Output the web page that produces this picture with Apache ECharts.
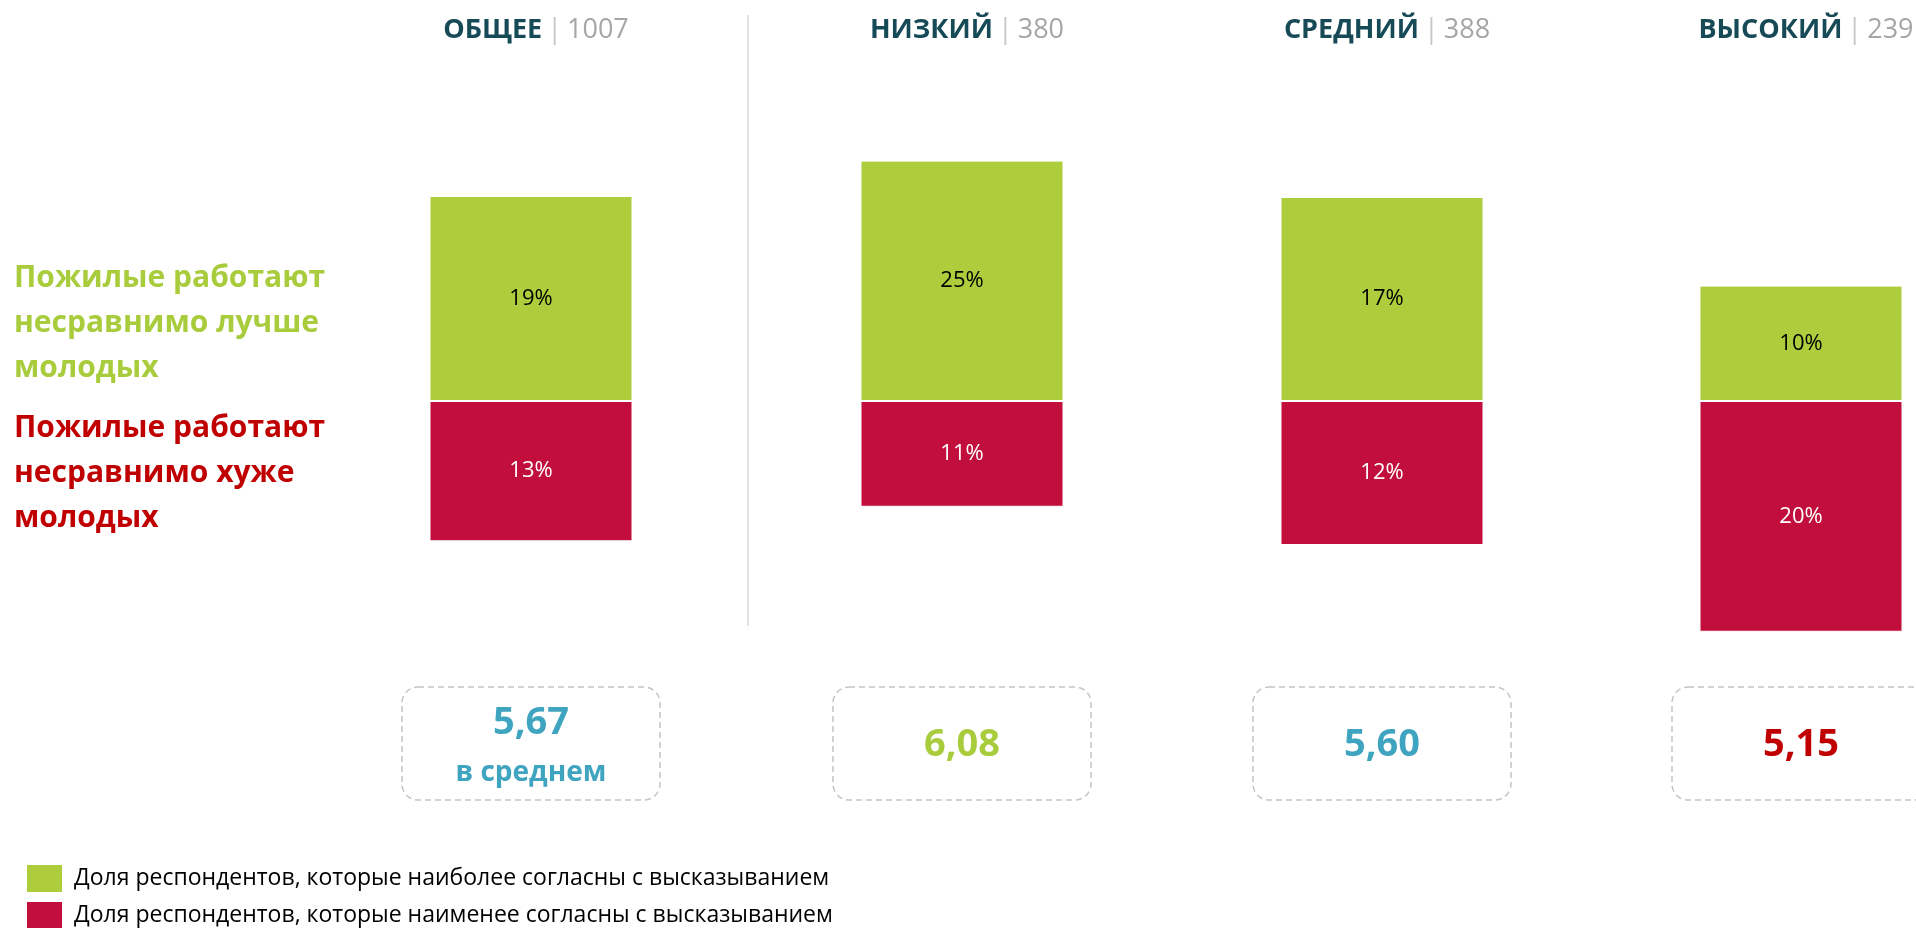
<!DOCTYPE html>
<html>
<head>
<meta charset="utf-8">
<script src="https://cdn.jsdelivr.net/npm/echarts@6/dist/echarts.min.js"></script>
<style>
  html, body { margin: 0; padding: 0; background: #fff; }
  #chart { width: 1916px; height: 928px; }
</style>
</head>
<body>
<div id="chart"></div>
<script>
// данные
const groups = ['ОБЩЕЕ', 'НИЗКИЙ', 'СРЕДНИЙ', 'ВЫСОКИЙ'];
const groupN = [1007, 380, 388, 239];
const agreeMost = [19, 25, 17, 10];   // наиболее согласны, %
const agreeLeast = [13, 11, 12, 20];  // наименее согласны, %
const meanScore = ['5,67', '6,08', '5,60', '5,15'];
const meanNote = ['в среднем', '', '', ''];
const axisRange = [27.8, 31.2, 25, 26]; // в оригинале у каждой панели свой масштаб

const seriesNames = [
  'Доля респондентов, которые наиболее согласны с высказыванием',
  'Доля респондентов, которые наименее согласны с высказыванием'
];

const GREEN = '#adcd3d';
const RED = '#c10e3c';
const TEXT_GREEN = '#a9cc3c';
const TEXT_RED = '#c00000';
const TEAL = '#3fa4bf';
const meanColor = [TEAL, TEXT_GREEN, TEAL, TEXT_RED];
const FONT = '"Open Sans", "Noto Sans", sans-serif';

const centers = [531, 962, 1382, 1801];
const barW = 203;

const chart = echarts.init(document.getElementById('chart'), null, { renderer: 'canvas' });

const grid = [], xAxis = [], yAxis = [], series = [], title = [], graphic = [];

groups.forEach((g, i) => {
  grid.push({ left: centers[i] - barW / 2, width: barW, top: 101, height: 600 });
  xAxis.push({ type: 'category', gridIndex: i, data: [g], show: false });
  yAxis.push({ type: 'value', gridIndex: i, min: -axisRange[i], max: axisRange[i], show: false });

  const label = (color) => ({
    show: true,
    position: 'inside',
    color: color,
    fontSize: 22,
    fontFamily: FONT,
    formatter: (p) => Math.abs(p.value) + '%'
  });

  series.push({
    name: seriesNames[0], type: 'bar', xAxisIndex: i, yAxisIndex: i, stack: 's' + i,
    barWidth: '100%', data: [agreeMost[i]],
    itemStyle: { color: GREEN, borderColor: '#fff', borderWidth: 1 },
    label: label('#000')
  });
  series.push({
    name: seriesNames[1], type: 'bar', xAxisIndex: i, yAxisIndex: i, stack: 's' + i,
    barWidth: '100%', data: [-agreeLeast[i]],
    itemStyle: { color: RED, borderColor: '#fff', borderWidth: 1 },
    label: label('#fff')
  });

  // заголовок панели
  title.push({
    text: '{a|' + g + '} {s||} {b|' + groupN[i] + '}',
    left: centers[i], top: 12, textAlign: 'center',
    textStyle: {
      fontWeight: 'normal',
      rich: {
        a: { fontSize: 27, fontWeight: 'bold', color: '#174a57', fontFamily: FONT },
        s: { fontSize: 27, fontWeight: 'normal', color: '#c8c8c8', fontFamily: FONT },
        b: { fontSize: 27, fontWeight: 'normal', color: '#a6a6a6', fontFamily: FONT }
      }
    }
  });

  // рамка со средним значением
  graphic.push({
    type: 'rect', shape: { x: centers[i] - 129, y: 687, width: 258, height: 113, r: 16 },
    style: { fill: 'none', stroke: '#c4c4c4', lineWidth: 1.5, lineDash: [6, 4] }
  });
  const twoLines = meanNote[i] !== '';
  graphic.push({
    type: 'text', x: centers[i], y: twoLines ? 723 : 745,
    style: {
      text: meanScore[i], fill: meanColor[i], font: 'bold 38px ' + FONT,
      textAlign: 'center', textVerticalAlign: 'middle'
    }
  });
  if (twoLines) {
    graphic.push({
      type: 'text', x: centers[i], y: 773,
      style: {
        text: meanNote[i], fill: meanColor[i], font: 'bold 28px ' + FONT,
        textAlign: 'center', textVerticalAlign: 'middle'
      }
    });
  }
});

// подписи слева
graphic.push({
  type: 'text', x: 14, y: 256,
  style: {
    text: 'Пожилые работают\nнесравнимо лучше\nмолодых',
    fill: TEXT_GREEN, font: 'bold 30px ' + FONT, lineHeight: 45
  }
});
graphic.push({
  type: 'text', x: 14, y: 406,
  style: {
    text: 'Пожилые работают\nнесравнимо хуже\nмолодых',
    fill: TEXT_RED, font: 'bold 30px ' + FONT, lineHeight: 45
  }
});
// вертикальный разделитель
graphic.push({
  type: 'line', shape: { x1: 748, y1: 15, x2: 748, y2: 626 },
  style: { stroke: '#d9d9d9', lineWidth: 1.5 }
});

const legendBase = {
  orient: 'vertical', left: 20,
  itemWidth: 37, itemHeight: 29, icon: 'rect',
  textStyle: { fontSize: 23, color: '#000', fontFamily: FONT, padding: [0, 0, 0, 6] }
};

chart.setOption({
  animation: false,
  backgroundColor: '#fff',
  title: title,
  grid: grid,
  xAxis: xAxis,
  yAxis: yAxis,
  series: series,
  graphic: graphic,
  legend: [
    Object.assign({}, legendBase, { top: 858, data: [seriesNames[0]] }),
    Object.assign({}, legendBase, { top: 895, data: [seriesNames[1]] })
  ]
});
</script>
</body>
</html>
